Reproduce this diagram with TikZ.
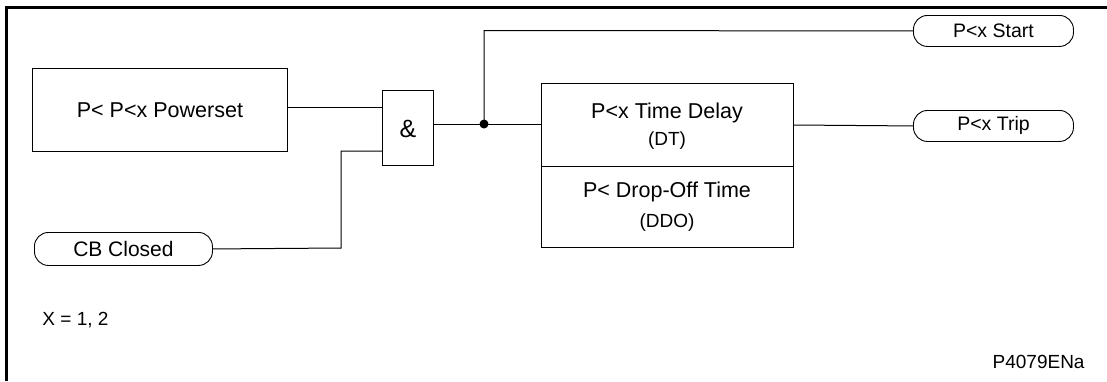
\documentclass[tikz,border=0pt]{standalone}
\usepackage{fontspec}
\setmainfont{Liberation Sans}
\begin{document}
\begin{tikzpicture}[x=1pt,y=-1pt,
  line width=0.9pt,
  box/.style={draw,rectangle,inner sep=0pt,anchor=north west},
  term/.style={draw,rectangle,rounded corners=14pt,inner sep=0pt,anchor=north west},
  txt/.style={inner sep=0pt,font=\fontsize{21.5}{25}\selectfont},
  ntxt/.style={inner sep=0pt,font=\fontsize{19}{22}\selectfont},
  stxt/.style={inner sep=0pt,font=\fontsize{19}{22}\selectfont},
  wire/.style={line width=1pt}]
\useasboundingbox (0,0) rectangle (1107,381);
% frame (top and left only)
\draw[line width=3pt] (6.5,381) -- (6.5,7.5) -- (1107,7.5);
% powerset box
\node[box,minimum width=255pt,minimum height=83pt] (ps) at (32,68) {};
\node[txt] (pst) at (ps.center) {P< P<x Powerset};
% AND gate
\node[box,minimum width=51pt,minimum height=75pt] (and) at (382,90) {};
\node[txt,font=\fontsize{25}{28}\selectfont] (andt) at (408,129) {\&};
% CB Closed
\node[term,minimum width=178pt,minimum height=33pt] (cb) at (34,232) {};
\node[txt,font=\fontsize{21}{24}\selectfont] (cbt) at (cb.center) {CB Closed};
% timer boxes
\node[box,minimum width=252pt,minimum height=83pt] (td) at (541,83) {};
\node[box,minimum width=252pt,minimum height=81pt] (ddo) at (541,166) {};
\node[txt] (tdt) at (667,113) {P<x Time Delay};
\node[stxt] (tds) at (667,141) {(DT)};
\node[txt] (ddot) at (667,192) {P< Drop-Off Time};
\node[stxt] (ddos) at (667,223) {(DDO)};
% output terminals
\node[term,minimum width=160pt,minimum height=31pt] (st) at (913,15) {};
\node[stxt,font=\fontsize{19.5}{22}\selectfont] (stt) at (st.center) {P<x Start};
\node[term,minimum width=160pt,minimum height=31pt] (tr) at (913,110) {};
\node[stxt,font=\fontsize{19.5}{22}\selectfont] (trt) at (tr.center) {P<x Trip};
% junction
\coordinate (j) at (484,124);
\coordinate (cbk) at (341,248);
% wires
\draw[wire] (ps.east |- 0,107) -- (and.west |- 0,107);
\draw[wire] (cb.east) -- (cbk) -- (341,151) -- (and.west |- 0,151);
\draw[wire] (and.east |- j) -- (td.west |- j);
\draw[wire] (j) -- (484,30.5) -- (st.west);
\draw[wire] (td.east |- 0,125) -- (tr.west);
\fill (j) circle (4.5pt);
% notes
\node[ntxt,anchor=west] (xn) at (42,320) {X = 1, 2};
\node[ntxt,anchor=east] (ref) at (1085,362) {P4079ENa};
\end{tikzpicture}
\end{document}
